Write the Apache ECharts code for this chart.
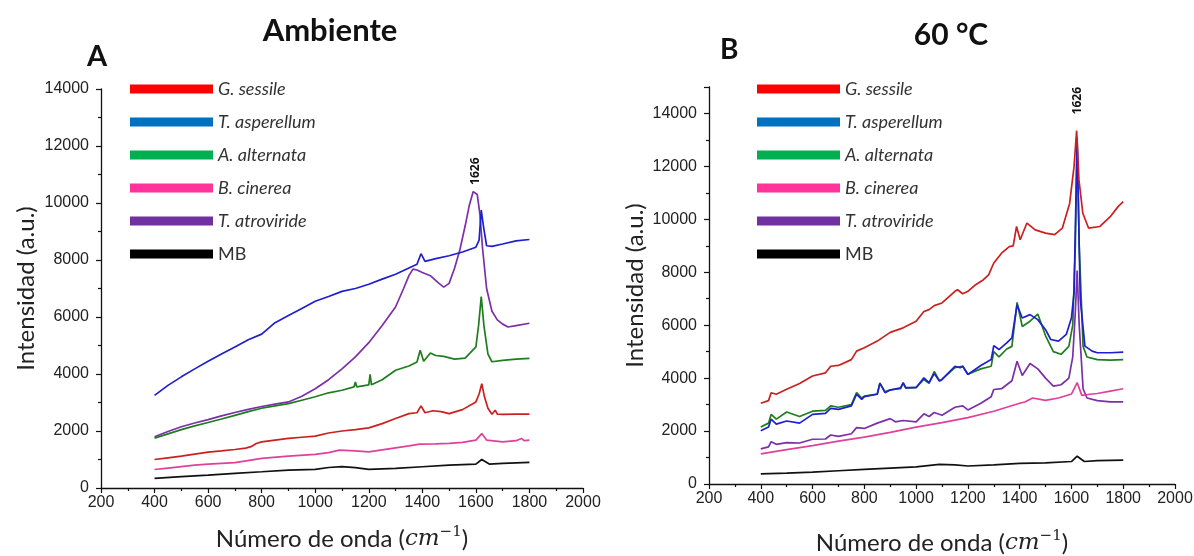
<!DOCTYPE html>
<html>
<head>
<meta charset="utf-8">
<script src="https://cdn.jsdelivr.net/npm/echarts@6/dist/echarts.min.js"></script>
<style>
html,body{margin:0;padding:0;background:#fff;}
#chart{width:1194px;height:556px;}
</style>
</head>
<body>
<div id="chart"></div>
<script>
// ---------- DATA ----------
const seriesNames = ['G. sessile', 'T. asperellum', 'A. alternata', 'B. cinerea', 'T. atroviride', 'MB'];
const legendColors = ['#ff0000', '#0070c0', '#00b050', '#ff3399', '#7030a0', '#000000'];
const lineColors = ['#cc1f1f', '#1f1fd0', '#1e7d1e', '#e0409b', '#7b2fa8', '#111111'];

const xTicks = [200, 400, 600, 800, 1000, 1200, 1400, 1600, 1800, 2000];
const yTicks = [0, 2000, 4000, 6000, 8000, 10000, 12000, 14000];
const peakLabel = '1626';

// Panel A (Ambiente) [wavenumber, intensity]
const ambGSessile = [[400,1000],[450,1060],[500,1120],[550,1190],[600,1260],[650,1300],[700,1350],[740,1400],[760,1450],[780,1560],[800,1620],[850,1680],[900,1740],[950,1780],[1000,1820],[1050,1930],[1100,2000],[1150,2050],[1200,2110],[1250,2260],[1300,2440],[1350,2610],[1380,2640],[1395,2880],[1410,2640],[1440,2710],[1470,2680],[1500,2610],[1550,2750],[1600,3020],[1612,3300],[1622,3660],[1632,3200],[1645,2800],[1660,2590],[1672,2730],[1680,2590],[1700,2580],[1750,2590],[1800,2590]];
const ambTAsperellum = [[400,3250],[450,3600],[500,3900],[550,4180],[600,4450],[650,4700],[700,4950],[750,5200],[800,5400],[850,5800],[900,6050],[950,6300],[1000,6550],[1050,6720],[1100,6900],[1150,7000],[1200,7150],[1250,7330],[1300,7500],[1350,7720],[1380,7850],[1395,8220],[1410,7950],[1450,8050],[1500,8150],[1550,8280],[1600,8450],[1612,8700],[1620,9750],[1628,9200],[1640,8500],[1660,8480],[1700,8560],[1750,8670],[1800,8720]];
const ambAAlternata = [[400,1750],[450,1900],[500,2050],[550,2180],[600,2300],[650,2420],[700,2550],[750,2680],[800,2800],[850,2880],[900,2960],[950,3080],[1000,3200],[1050,3340],[1100,3430],[1145,3550],[1150,3720],[1155,3550],[1200,3620],[1205,3990],[1210,3620],[1250,3800],[1300,4130],[1350,4280],[1380,4420],[1392,4830],[1405,4450],[1430,4740],[1450,4650],[1480,4620],[1520,4520],[1560,4560],[1600,4950],[1610,5700],[1620,6720],[1630,5700],[1645,4700],[1660,4430],[1700,4480],[1750,4520],[1800,4550]];
const ambBCinerea = [[400,650],[450,700],[500,750],[550,800],[600,840],[700,890],[760,980],[800,1040],[900,1120],[1000,1180],[1050,1240],[1090,1330],[1150,1300],[1200,1270],[1250,1340],[1300,1410],[1350,1480],[1390,1540],[1450,1550],[1500,1565],[1550,1600],[1600,1680],[1622,1910],[1640,1680],[1700,1620],[1750,1660],[1770,1740],[1780,1660],[1800,1680]];
const ambTAtroviride = [[400,1800],[450,1980],[500,2150],[550,2280],[600,2400],[650,2530],[700,2650],[750,2760],[800,2860],[850,2940],[900,3020],[950,3220],[1000,3480],[1050,3800],[1100,4180],[1150,4600],[1200,5100],[1250,5700],[1300,6350],[1330,7000],[1350,7450],[1365,7680],[1380,7650],[1400,7560],[1430,7450],[1460,7200],[1480,7050],[1500,7180],[1520,7700],[1540,8350],[1560,9200],[1575,9900],[1590,10400],[1597,10450],[1605,10300],[1615,9600],[1625,8400],[1640,7000],[1660,6200],[1680,5900],[1700,5750],[1720,5650],[1750,5700],[1800,5780]];
const ambMB = [[400,340],[500,400],[600,455],[700,515],[800,570],[900,630],[1000,655],[1050,720],[1100,750],[1150,715],[1200,655],[1300,690],[1400,745],[1500,800],[1600,840],[1622,1000],[1650,840],[1700,865],[1800,900]];

// Panel B (60 °C)
const c60GSessile = [[400,3050],[430,3150],[440,3450],[460,3390],[500,3580],[550,3800],[600,4080],[650,4200],[670,4450],[700,4480],[750,4700],[770,5020],[800,5150],[850,5400],[900,5730],[950,5900],[1000,6150],[1030,6520],[1050,6590],[1070,6740],[1100,6840],[1150,7280],[1160,7340],[1180,7190],[1200,7280],[1230,7530],[1260,7720],[1280,7900],[1300,8350],[1330,8720],[1360,8970],[1375,9000],[1388,9730],[1402,9230],[1428,9860],[1460,9600],[1500,9480],[1535,9420],[1565,9670],[1593,10600],[1610,11990],[1620,13350],[1629,11490],[1644,10230],[1666,9670],[1710,9730],[1750,10100],[1780,10480],[1800,10670]];
const c60TAsperellum = [[400,2010],[430,2150],[440,2450],[460,2260],[500,2380],[550,2300],[600,2630],[650,2670],[670,2860],[700,2820],[750,2950],[770,3390],[790,3200],[800,3300],[850,3390],[860,3800],[880,3450],[900,3550],[940,3630],[950,3830],[960,3640],[1000,3640],[1030,4010],[1050,3830],[1070,4170],[1090,3890],[1100,3950],[1150,4450],[1170,4390],[1180,4450],[1200,4140],[1250,4480],[1290,4700],[1300,5230],[1320,5080],[1350,5330],[1370,5520],[1390,6770],[1410,6270],[1440,6400],[1470,6210],[1500,5830],[1520,5460],[1550,5400],[1580,5650],[1600,6270],[1610,7220],[1622,13000],[1634,7000],[1652,5210],[1680,5020],[1700,4960],[1750,4960],[1800,4980]];
const c60AAlternata = [[400,2150],[430,2300],[440,2630],[460,2450],[500,2720],[550,2550],[600,2750],[650,2780],[670,2950],[700,2900],[750,3000],[770,3450],[790,3250],[800,3320],[850,3400],[860,3820],[880,3480],[900,3560],[940,3600],[950,3800],[960,3620],[1000,3650],[1030,3950],[1050,3800],[1070,4250],[1090,3900],[1100,3950],[1150,4400],[1180,4450],[1200,4150],[1250,4350],[1290,4450],[1300,5000],[1320,4800],[1350,5100],[1370,5200],[1390,6860],[1410,5950],[1440,6150],[1470,6420],[1500,5600],[1530,5000],[1560,4900],[1590,5200],[1605,6000],[1615,9000],[1622,13100],[1630,9000],[1645,5200],[1660,4800],[1700,4700],[1750,4680],[1800,4700]];
const c60BCinerea = [[400,1140],[500,1300],[600,1450],[700,1620],[800,1770],[900,1950],[1000,2150],[1100,2320],[1200,2510],[1300,2750],[1400,3050],[1420,3100],[1450,3250],[1500,3160],[1550,3250],[1600,3400],[1622,3830],[1640,3350],[1680,3400],[1700,3420],[1750,3510],[1800,3600]];
const c60TAtroviride = [[400,1330],[430,1400],[440,1600],[460,1500],[500,1560],[550,1550],[600,1690],[650,1700],[670,1850],[700,1800],[750,1900],[770,2130],[800,2100],[850,2300],[900,2470],[920,2350],[950,2400],[1000,2350],[1030,2650],[1050,2550],[1070,2700],[1100,2600],[1150,2900],[1180,2950],[1200,2800],[1250,3050],[1290,3300],[1300,3570],[1330,3600],[1370,3900],[1390,4640],[1410,4100],[1440,4550],[1470,4350],[1500,4000],[1530,3700],[1560,3750],[1590,4000],[1605,4800],[1615,6500],[1622,8070],[1630,6000],[1645,3600],[1660,3250],[1700,3150],[1750,3100],[1800,3100]];
const c60MB = [[400,380],[500,410],[600,450],[700,500],[800,550],[900,600],[1000,650],[1090,740],[1150,720],[1200,680],[1300,720],[1400,780],[1500,800],[1600,850],[1622,1050],[1650,850],[1700,880],[1800,900]];

const ambSeriesData = [ambGSessile, ambTAsperellum, ambAAlternata, ambBCinerea, ambTAtroviride, ambMB];
const c60SeriesData = [c60GSessile, c60TAsperellum, c60AAlternata, c60BCinerea, c60TAtroviride, c60MB];

// ---------- CHART ----------
const chart = echarts.init(document.getElementById('chart'), null, {renderer: 'canvas'});
const tickFont = 'Liberation Sans, Arial, sans-serif';
const titleFont = 'Lato, "Open Sans", sans-serif';

function xAxisCfg(gridIndex, nameGap) {
  return {
    type: 'value', gridIndex: gridIndex, min: xTicks[0], max: xTicks[xTicks.length - 1], interval: 200,
    name: 'Número de onda ({it|cm}{sup|−1})', nameLocation: 'middle', nameGap: nameGap,
    nameTextStyle: {
      fontFamily: titleFont, fontSize: 24, color: '#222',
      rich: {
        it: {fontFamily: '"DejaVu Serif", serif', fontStyle: 'italic', fontSize: 23, color: '#222'},
        sup: {fontFamily: '"DejaVu Serif", serif', fontSize: 15, color: '#222', padding: [0, 0, 14, 0]}
      }
    },
    axisLine: {lineStyle: {color: '#111', width: 1.3}},
    axisTick: {inside: false, length: 5, lineStyle: {color: '#111', width: 1.2}},
    minorTick: {show: true, splitNumber: 2, length: 3, lineStyle: {color: '#111', width: 1.2}},
    axisLabel: {fontFamily: tickFont, fontSize: 16, color: '#222', margin: 7, showMinLabel: true, showMaxLabel: true,
      formatter: function (v) { return xTicks.indexOf(v) >= 0 ? String(v) : ''; }},
    splitLine: {show: false}
  };
}
function yAxisCfg(gridIndex, max, nameGap) {
  return {
    type: 'value', gridIndex: gridIndex, min: 0, max: max, interval: 2000,
    name: 'Intensidad (a.u.)', nameLocation: 'middle', nameGap: nameGap,
    nameTextStyle: {fontFamily: titleFont, fontSize: 24, color: '#222'},
    axisLine: {show: true, lineStyle: {color: '#111', width: 1.3}},
    axisTick: {show: true, inside: false, length: 5, lineStyle: {color: '#111', width: 1.2}},
    minorTick: {show: true, splitNumber: 2, length: 3, lineStyle: {color: '#111', width: 1.2}},
    axisLabel: {fontFamily: tickFont, fontSize: 16, color: '#222', margin: 12,
      formatter: function (v) { return yTicks.indexOf(v) >= 0 ? String(v) : ''; }},
    splitLine: {show: false}
  };
}

const series = [];
function addSeries(dataList, xi, yi) {
  dataList.forEach(function (d, i) {
    series.push({
      name: seriesNames[i], type: 'line', xAxisIndex: xi, yAxisIndex: yi,
      data: d, showSymbol: false, symbol: 'none', smooth: false,
      itemStyle: {color: legendColors[i]},
      lineStyle: {color: lineColors[i], width: 1.7},
      z: 10 - i, animation: false
    });
  });
}
addSeries(ambSeriesData, 0, 0);
addSeries(c60SeriesData, 1, 1);

function legendCfg(left) {
  return {
    orient: 'vertical', left: left, top: 75, itemWidth: 83, itemHeight: 9, itemGap: 15,
    icon: 'rect', selectedMode: false,
    data: seriesNames.map(function (n, i) { return {name: n, icon: 'rect', itemStyle: {color: legendColors[i], borderWidth: 0}}; }),
    formatter: function (n) { return n === 'MB' ? '{n|' + n + '}' : '{i|' + n + '}'; },
    textStyle: {
      fontFamily: titleFont, fontSize: 18, color: '#333', lineHeight: 18,
      rich: {i: {fontStyle: 'italic', fontFamily: titleFont, fontSize: 18, color: '#333', lineHeight: 18},
             n: {fontFamily: titleFont, fontSize: 18, color: '#333', lineHeight: 18}}
    }
  };
}

chart.setOption({
  animation: false,
  backgroundColor: '#fff',
  title: [
    {text: 'Ambiente', left: 325, top: 10, textAlign: 'center', textStyle: {fontFamily: titleFont, fontSize: 31, fontWeight: 'bold', color: '#111'}},
    {text: 'A', left: 82, top: 37, textStyle: {fontFamily: titleFont, fontSize: 29, fontWeight: 'bold', color: '#111'}},
    {text: '60 °C', left: 946, top: 15, textAlign: 'center', textStyle: {fontFamily: titleFont, fontSize: 30, fontWeight: 'bold', color: '#111'}},
    {text: 'B', left: 715, top: 31, textStyle: {fontFamily: titleFont, fontSize: 28, fontWeight: 'bold', color: '#111'}}
  ],
  legend: [legendCfg(125), legendCfg(752)],
  grid: [
    {left: 101, right: 611, top: 89, bottom: 68, outerBoundsMode: 'none', containLabel: false},
    {left: 709, right: 19, top: 87, bottom: 72, outerBoundsMode: 'none', containLabel: false}
  ],
  xAxis: [xAxisCfg(0, 37), xAxisCfg(1, 45)],
  yAxis: [yAxisCfg(0, 14000, 63), yAxisCfg(1, 15000, 62)],
  series: series
});

// Peak annotations positioned through the axes
const pA = chart.convertToPixel({gridIndex: 0}, [1597, 10450]);
const pB = chart.convertToPixel({gridIndex: 1}, [1622, 13350]);
chart.setOption({
  graphic: [
    {type: 'text', x: pA[0], y: pA[1] - 19, rotation: Math.PI / 2,
     style: {text: peakLabel, fontFamily: '"Open Sans", sans-serif', fontSize: 12, fontWeight: 'bold', fill: '#111', align: 'center', verticalAlign: 'middle'}},
    {type: 'text', x: pB[0], y: pB[1] - 30, rotation: Math.PI / 2,
     style: {text: peakLabel, fontFamily: '"Open Sans", sans-serif', fontSize: 12, fontWeight: 'bold', fill: '#111', align: 'center', verticalAlign: 'middle'}}
  ]
});
</script>
</body>
</html>
